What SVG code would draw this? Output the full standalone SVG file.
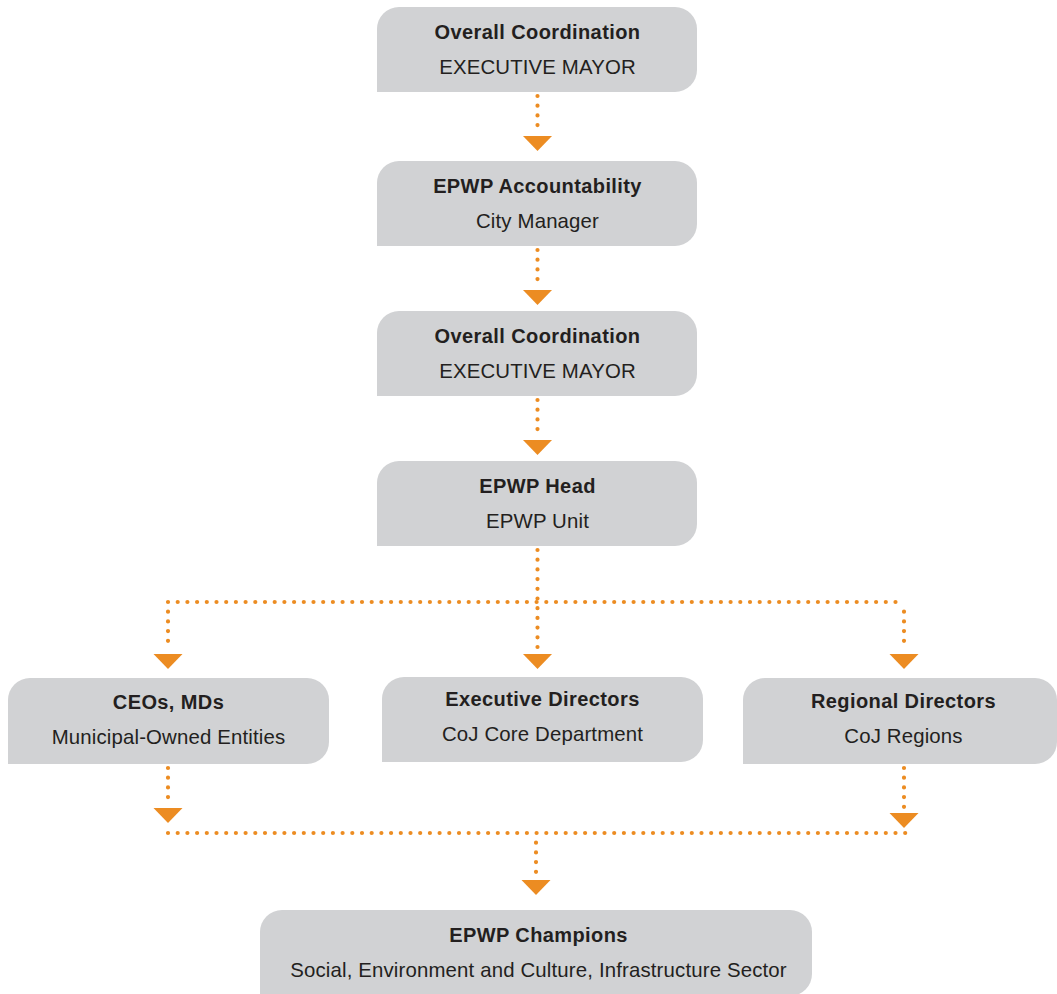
<svg xmlns="http://www.w3.org/2000/svg" width="1057" height="994" viewBox="0 0 1057 994">
<style>
.box{fill:#D1D2D4}
.t1{font-family:"Liberation Sans",Arial,sans-serif;font-weight:bold;font-size:20px;letter-spacing:0.4px;fill:#231F20;text-anchor:middle}
.t2{font-family:"Liberation Sans",Arial,sans-serif;font-size:20.4px;letter-spacing:0.15px;fill:#231F20;text-anchor:middle}
.dot{fill:none;stroke:#EC8C22;stroke-width:4.2;stroke-linecap:round;stroke-dasharray:0 9.7}
.ah{fill:#EC8C22}
</style>
<rect width="1057" height="994" fill="#FFFFFF"/>
<g id="connectors">
<path class="dot" d="M537.5 96 V132"/>
<path class="ah" d="M523 136 H552 L537.5 151 Z"/>
<path class="dot" d="M537.5 250 V286"/>
<path class="ah" d="M523 290 H552 L537.5 305 Z"/>
<path class="dot" d="M537.5 400 V436"/>
<path class="ah" d="M523 440 H552 L537.5 455 Z"/>
<path class="dot" d="M537.5 550 V650"/>
<path class="dot" d="M168 602 H904"/>
<path class="dot" d="M168 611.7 V650"/>
<path class="dot" d="M904 611.7 V650"/>
<path class="ah" d="M523 654 H552 L537.5 669 Z"/>
<path class="ah" d="M153.5 654 H182.5 L168 669 Z"/>
<path class="ah" d="M889.5 654 H918.5 L904 669 Z"/>
<path class="dot" d="M168 768 V804"/>
<path class="ah" d="M153.5 808 H182.5 L168 823 Z"/>
<path class="dot" d="M904 768 V809"/>
<path class="ah" d="M889.5 813 H918.5 L904 828 Z"/>
<path class="dot" d="M168 833 H906"/>
<path class="dot" d="M536 842.7 V876"/>
<path class="ah" d="M521.5 880 H550.5 L536 895 Z"/>
</g>
<g id="node1">
<path class="box" d="M377 92 V29 A22 22 0 0 1 399 7 H675 A22 22 0 0 1 697 29 V70 A22 22 0 0 1 675 92 Z"/>
<text class="t1" x="537.5" y="39">Overall Coordination</text>
<text class="t2" x="537.5" y="74">EXECUTIVE MAYOR</text>
</g>
<g id="node2">
<path class="box" d="M377 246 V183 A22 22 0 0 1 399 161 H675 A22 22 0 0 1 697 183 V224 A22 22 0 0 1 675 246 Z"/>
<text class="t1" x="537.5" y="193">EPWP Accountability</text>
<text class="t2" x="537.5" y="228">City Manager</text>
</g>
<g id="node3">
<path class="box" d="M377 396 V333 A22 22 0 0 1 399 311 H675 A22 22 0 0 1 697 333 V374 A22 22 0 0 1 675 396 Z"/>
<text class="t1" x="537.5" y="343">Overall Coordination</text>
<text class="t2" x="537.5" y="378">EXECUTIVE MAYOR</text>
</g>
<g id="node4">
<path class="box" d="M377 546 V483 A22 22 0 0 1 399 461 H675 A22 22 0 0 1 697 483 V524 A22 22 0 0 1 675 546 Z"/>
<text class="t1" x="537.5" y="493">EPWP Head</text>
<text class="t2" x="537.5" y="528">EPWP Unit</text>
</g>
<g id="node5">
<path class="box" d="M8 764 V700 A22 22 0 0 1 30 678 H307 A22 22 0 0 1 329 700 V742 A22 22 0 0 1 307 764 Z"/>
<text class="t1" x="168.5" y="708.5">CEOs, MDs</text>
<text class="t2" x="168.5" y="743.5">Municipal-Owned Entities</text>
</g>
<g id="node6">
<path class="box" d="M382 762 V699 A22 22 0 0 1 404 677 H681 A22 22 0 0 1 703 699 V740 A22 22 0 0 1 681 762 Z"/>
<text class="t1" x="542.5" y="706">Executive Directors</text>
<text class="t2" x="542.5" y="741">CoJ Core Department</text>
</g>
<g id="node7">
<path class="box" d="M743 764 V700 A22 22 0 0 1 765 678 H1035 A22 22 0 0 1 1057 700 V742 A22 22 0 0 1 1035 764 Z"/>
<text class="t1" x="903.5" y="707.5">Regional Directors</text>
<text class="t2" x="903.5" y="743">CoJ Regions</text>
</g>
<g id="node8">
<path class="box" d="M260 996 V932 A22 22 0 0 1 282 910 H790 A22 22 0 0 1 812 932 V974 A22 22 0 0 1 790 996 Z"/>
<text class="t1" x="538.5" y="942">EPWP Champions</text>
<text class="t2" x="538.5" y="977">Social, Environment and Culture, Infrastructure Sector</text>
</g>
</svg>
